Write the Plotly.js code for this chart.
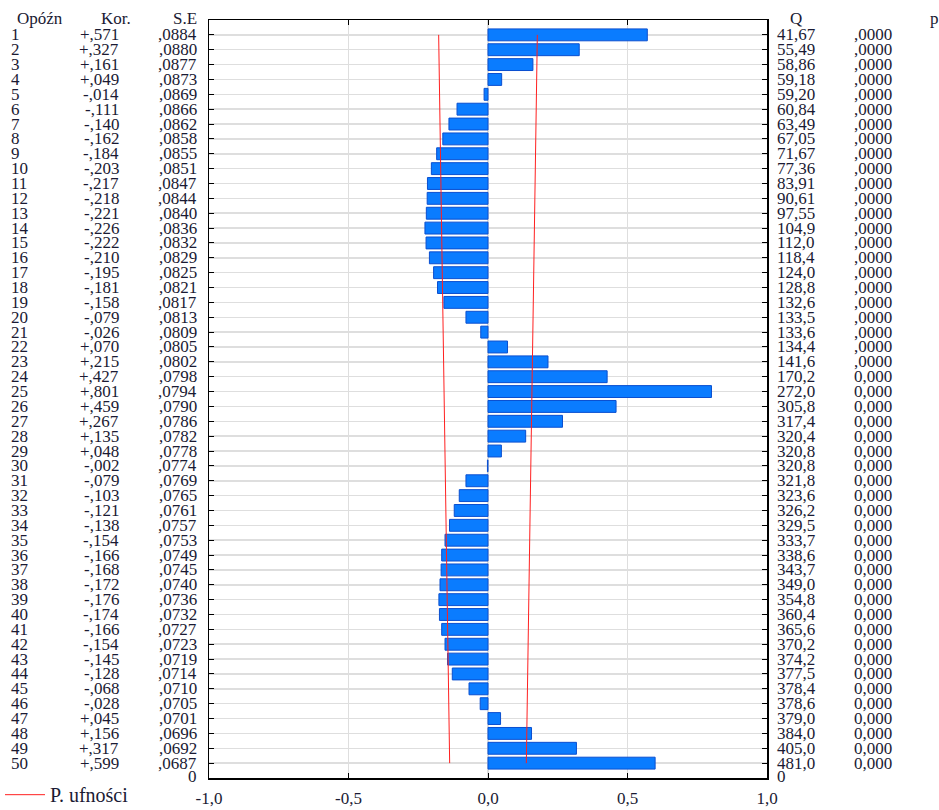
<!DOCTYPE html>
<html>
<head>
<meta charset="utf-8">
<script src="https://cdn.plot.ly/plotly-3.0.1.min.js"></script>
<style>html,body{margin:0;padding:0;background:#fff;}#chart{width:939px;height:810px;}</style>
</head>
<body>
<div id="chart"></div>
<script>
const lags = [1,2,3,4,5,6,7,8,9,10,11,12,13,14,15,16,17,18,19,20,21,22,23,24,25,26,27,28,29,30,31,32,33,34,35,36,37,38,39,40,41,42,43,44,45,46,47,48,49,50];
const kor = [0.571,0.327,0.161,0.049,-0.014,-0.111,-0.140,-0.162,-0.184,-0.203,-0.217,-0.218,-0.221,-0.226,-0.222,-0.210,-0.195,-0.181,-0.158,-0.079,-0.026,0.070,0.215,0.427,0.801,0.459,0.267,0.135,0.048,-0.002,-0.079,-0.103,-0.121,-0.138,-0.154,-0.166,-0.168,-0.172,-0.176,-0.174,-0.166,-0.154,-0.145,-0.128,-0.068,-0.028,0.045,0.156,0.317,0.599];
const se = [0.0884,0.0880,0.0877,0.0873,0.0869,0.0866,0.0862,0.0858,0.0855,0.0851,0.0847,0.0844,0.0840,0.0836,0.0832,0.0829,0.0825,0.0821,0.0817,0.0813,0.0809,0.0805,0.0802,0.0798,0.0794,0.0790,0.0786,0.0782,0.0778,0.0774,0.0769,0.0765,0.0761,0.0757,0.0753,0.0749,0.0745,0.0740,0.0736,0.0732,0.0727,0.0723,0.0719,0.0714,0.0710,0.0705,0.0701,0.0696,0.0692,0.0687];
const qLabels = ["41,67","55,49","58,86","59,18","59,20","60,84","63,49","67,05","71,67","77,36","83,91","90,61","97,55","104,9","112,0","118,4","124,0","128,8","132,6","133,5","133,6","134,4","141,6","170,2","272,0","305,8","317,4","320,4","320,8","320,8","321,8","323,6","326,2","329,5","333,7","338,6","343,7","349,0","354,8","360,4","365,6","370,2","374,2","377,5","378,4","378,6","379,0","384,0","405,0","481,0"];
const pLabels = [",0000",",0000",",0000",",0000",",0000",",0000",",0000",",0000",",0000",",0000",",0000",",0000",",0000",",0000",",0000",",0000",",0000",",0000",",0000",",0000",",0000",",0000",",0000","0,000","0,000","0,000","0,000","0,000","0,000","0,000","0,000","0,000","0,000","0,000","0,000","0,000","0,000","0,000","0,000","0,000","0,000","0,000","0,000","0,000","0,000","0,000","0,000","0,000","0,000","0,000"];
const xTickVals = [-1, -0.5, 0, 0.5, 1];
const xTickText = ["-1,0", "-0,5", "0,0", "0,5", "1,0"];
const headers = ["Opóźn", "Kor.", "S.E", "Q", "p"];
const legendName = "P. ufności";

const korLabels = kor.map(v => (v >= 0 ? "+" : "-") + "," + Math.abs(v).toFixed(3).split(".")[1]);
const seLabels = se.map(v => "," + v.toFixed(4).split(".")[1]);
const upper = se.map(v => 2 * v);
const lower = se.map(v => -2 * v);

const FONT = "Liberation Serif";
const TXT = "#1a1a33";
const fs = 17;

const L = 209, R = 767, T = 20, B = 778, W = 939;
const pw = R - L;
const px = p => (p - L) / pw;

const traces = [
  {type: "bar", orientation: "h", x: kor, y: lags, width: 0.8,
   marker: {color: "#0a7cff", line: {color: "#0a4fd0", width: 1}}, showlegend: false, hoverinfo: "x+y"},
  {type: "scatter", mode: "lines", x: upper, y: lags, name: legendName, legendgroup: "ci",
   line: {color: "#ff2020", width: 1}, showlegend: true},
  {type: "scatter", mode: "lines", x: lower, y: lags, name: legendName, legendgroup: "ci",
   line: {color: "#ff2020", width: 1}, showlegend: false}
];

const ann = [];
function addCol(labels, xpos, anchor) {
  labels.forEach((t, i) => ann.push({xref: "paper", yref: "y", x: px(xpos), y: lags[i], text: t,
    showarrow: false, xanchor: anchor, yanchor: "middle", font: {family: FONT, size: fs, color: TXT}}));
}
addCol(lags.map(String), 9, "left");
addCol(korLabels, 121, "right");
addCol(seLabels, 199, "right");
addCol(qLabels, 775, "left");
addCol(pLabels, 894, "right");
[[headers[0], 40, "center"], [headers[1], 116, "center"], [headers[2], 199, "right"], [headers[3], 796, "center"], [headers[4], 934, "center"]]
  .forEach(h => ann.push({xref: "paper", yref: "y", x: px(h[1]), y: 0, yshift: 2, text: h[0], showarrow: false,
    xanchor: h[2], yanchor: "middle", font: {family: FONT, size: fs, color: TXT}}));
ann.push({xref: "paper", yref: "y", x: px(199), y: 51, yshift: 2, text: "0", showarrow: false, xanchor: "right", yanchor: "middle", font: {family: FONT, size: fs, color: TXT}});
ann.push({xref: "paper", yref: "y", x: px(775), y: 51, yshift: 2, text: "0", showarrow: false, xanchor: "left", yanchor: "middle", font: {family: FONT, size: fs, color: TXT}});

const layout = {
  width: 939, height: 810,
  margin: {l: L, r: W - R, t: T, b: 810 - B, pad: 0, autoexpand: false},
  paper_bgcolor: "#fff", plot_bgcolor: "#fff",
  font: {family: FONT, size: fs, color: TXT},
  xaxis: {range: [-1, 1], tickvals: xTickVals, ticktext: xTickText, ticks: "inside", ticklen: 5,
    tickcolor: "#000", showline: true, linecolor: "#000", linewidth: 1.5, mirror: "ticks",
    showgrid: true, gridcolor: "#dedede", gridwidth: 1.5, zeroline: false, fixedrange: true, automargin: false,
    tickfont: {family: FONT, size: 17, color: TXT}, ticklabelstandoff: 4},
  yaxis: {range: [51, 0], tickvals: lags, showticklabels: false, ticks: "inside", ticklen: 5,
    tickcolor: "#000", showline: true, linecolor: "#000", linewidth: 1.5, mirror: "ticks", automargin: false,
    showgrid: true, gridcolor: "#dedede", gridwidth: 1.5, zeroline: false, fixedrange: true},
  showlegend: true,
  legend: {x: px(0), xanchor: "left", y: -0.022, yanchor: "middle", bgcolor: "rgba(0,0,0,0)",
    font: {family: FONT, size: 20, color: TXT}, itemwidth: 40, tracegroupgap: 0},
  annotations: ann,
  bargap: 0.2
};

Plotly.newPlot("chart", traces, layout, {displayModeBar: false, staticPlot: true});
</script>
</body>
</html>
